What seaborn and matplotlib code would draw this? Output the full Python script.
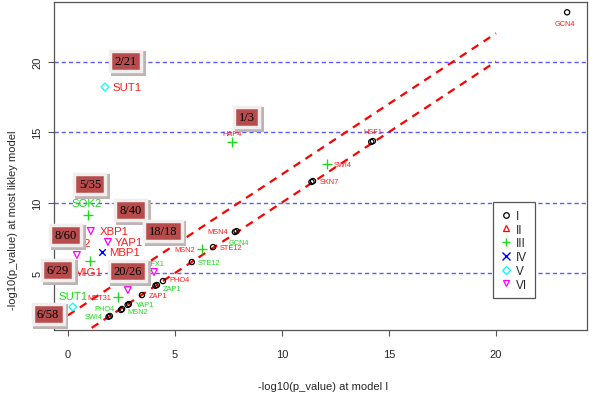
import matplotlib
matplotlib.use("Agg")
import matplotlib.pyplot as plt
from matplotlib.lines import Line2D
import pandas as pd
import seaborn as sns

# ---- data ------------------------------------------------------------------
# group I: open black circles (many are two nearly overlapping circles)
g1_x = [23.32, 14.25, 14.17, 11.45, 11.38, 7.80, 7.88, 6.78, 5.79, 4.44, 4.16, 4.09, 3.46, 2.85, 2.79, 2.48, 2.53, 1.96, 1.90]
g1_y = [23.49, 14.36, 14.30, 11.52, 11.46, 7.91, 7.97, 6.84, 5.78, 4.43, 4.15, 4.10, 3.44, 2.80, 2.74, 2.38, 2.45, 1.95, 1.90]
g1_names = ["GCN4", "HSF1", "", "SKN7", "", "MSN4", "GCN4", "STE12", "STE12", "PHO4", "ZAP1", "",
            "ZAP1", "YAP1", "", "PHO4", "MSN2", "SWI4", ""]
g1_label_col = ["r", "r", "", "r", "", "r", "g", "r", "g", "r", "g", "", "r", "g", "", "g", "g", "g", ""]

# group III: green plus
g3_x = [7.66, 12.10, 6.26, 2.34, 0.93, 1.03]
g3_y = [14.28, 12.73, 6.70, 3.30, 9.11, 5.85]
g3_names = ["HAP4", "SWI4", "MSN2", "MET31", "SOK2", "MIG1"]
g3_label_col = ["r", "r", "r", "r", "g", "r"]

# group IV: blue x
g4_x = [1.59]
g4_y = [6.49]
g4_names = ["MBP1"]
g4_label_col = ["r"]

# group V: cyan diamond
g5_x = [1.73, 0.23]
g5_y = [18.19, 2.59]
g5_names = ["SUT1", "SUT1"]
g5_label_col = ["r", "g"]

# group VI: magenta down triangle
g6_x = [1.07, 1.87, 0.42, 4.02, 2.80]
g6_y = [7.98, 7.20, 6.28, 5.07, 3.79]
g6_names = ["XBP1", "YAP1", "INO2", "RFX1", ""]
g6_label_col = ["r", "r", "r", "g", ""]

group_names = ["I", "II", "III", "IV", "V", "VI"]

# boxed counts pasted over the plot
box_texts = ["2/21", "1/3", "5/35", "8/40", "8/60", "18/18", "6/29", "20/26", "6/58"]
box_x = [2.71, 8.36, 1.03, 2.94, -0.09, 4.44, -0.47, 2.80, -0.93]
box_y = [20.04, 16.06, 11.31, 9.47, 7.70, 7.98, 5.21, 5.14, 2.09]

hlines_y = [5, 10, 15, 20]
diag_x = [0, 20]
diag_shift = [0, 2]

# ---- label layout: (dx px, dy px, ha, big font) ----------------------------
g1_lab = [(-2, -11, "center", False), (0, 10, "center", False), None, (7, 0, "left", False), None,
          (-7, 0, "right", False), (2, -11, "center", False), (7, 0, "left", False), (6, 0, "left", False),
          (6, 2, "left", False), (6, -3, "left", False), None, (7, 0, "left", False),
          (7, 0, "left", False), None, (-6, 1, "right", False), (5, -3, "left", False),
          (-7, 0, "right", False), None]
g3_lab = [(0, 9, "center", False), (7, 0, "left", False), (-7, 0, "right", False),
          (-7, 0, "right", False), (-1, 12, "center", True), (-2, -11, "center", True)]
g4_lab = [(7, 0, "left", True)]
g5_lab = [(8, 0, "left", True), (0, 11, "center", True)]
g6_lab = [(9, 0, "left", True), (7, 0, "left", True), (0, 12, "center", True), (1, 9, "center", False), None]

COLORS = {"I": "black", "II": "red", "III": "#1ed81e", "IV": "blue", "V": "cyan", "VI": "magenta"}
LABEL_COLORS = {"r": "#ff1a1a", "g": "#1ed81e"}

sns.set_style("white")
plt.rcParams["font.family"] = ["Liberation Sans", "DejaVu Sans"]

fig = plt.figure(figsize=(6.0, 4.1), dpi=100)
ax = fig.add_axes([54 / 600, 79 / 410, 533 / 600, 328 / 410])

# reference lines
for y in hlines_y:
    ax.axhline(y, color="#5a5aff", lw=1.0, ls=(0, (3.0, 2.2)), zorder=1)
for s in diag_shift:
    ax.plot(diag_x, [v + s for v in diag_x], color="red", lw=1.6, ls=(0, (3.6, 2.8)), zorder=2)

# points
groups = [
    ("I", g1_x, g1_y, g1_names, g1_label_col, g1_lab, "o", 14, True),
    ("III", g3_x, g3_y, g3_names, g3_label_col, g3_lab, "+", 45, False),
    ("IV", g4_x, g4_y, g4_names, g4_label_col, g4_lab, "x", 22, False),
    ("V", g5_x, g5_y, g5_names, g5_label_col, g5_lab, "D", 16, True),
    ("VI", g6_x, g6_y, g6_names, g6_label_col, g6_lab, "v", 24, True),
]
for grp, xs, ys, names, lcols, layout, marker, size, hollow in groups:
    df = pd.DataFrame({"x": xs, "y": ys, "name": names})
    if hollow:
        sns.scatterplot(data=df, x="x", y="y", marker=marker, s=size, facecolors="none",
                        edgecolor=COLORS[grp], linewidth=0.9, ax=ax, zorder=3)
    else:
        sns.scatterplot(data=df, x="x", y="y", marker=marker, s=size, color=COLORS[grp],
                        linewidth=1.0, ax=ax, zorder=3)
    for (px, py, nm, lc, lay) in zip(xs, ys, names, lcols, layout):
        if not nm or lay is None:
            continue
        dx, dy, ha, big = lay
        ax.annotate(nm, (px, py), xytext=(dx, dy), textcoords="offset pixels", ha=ha, va="center",
                    color=LABEL_COLORS[lc], fontsize=8.2 if big else 5.3, zorder=4)

# count boxes with a light frame and drop shadow
for txt, bx, by in zip(box_texts, box_x, box_y):
    ax.annotate(txt, (bx, by), xytext=(2.5, -2.5), textcoords="offset pixels", ha="center", va="center",
                family="Liberation Serif", fontsize=9, color="none", annotation_clip=False,
                bbox=dict(boxstyle="square,pad=0.5", fc="#bdb4b4", ec="none"), zorder=5)
    ax.annotate(txt, (bx, by), ha="center", va="center", family="Liberation Serif", fontsize=9,
                color="black", annotation_clip=False,
                bbox=dict(boxstyle="square,pad=0.35", fc="#b84c4c", ec="#f3eeee", lw=2.5), zorder=6)

ax.set_xlim(-0.65, 24.25)
ax.set_ylim(0.96, 24.22)
ax.set_xticks([0, 5, 10, 15, 20])
ax.set_yticks([5, 10, 15, 20])
ax.tick_params(axis="both", direction="out", length=4.5, width=0.8, color="#555555",
               labelsize=8, bottom=True, left=True)
ax.tick_params(axis="x", pad=9)
ax.tick_params(axis="y", pad=4, labelrotation=90)
for lab in ax.get_yticklabels():
    lab.set_va("center")
for sp in ax.spines.values():
    sp.set_color("#555555")
    sp.set_linewidth(0.9)

ax.set_xlabel("-log10(p_value) at model I", fontsize=8)
ax.set_ylabel("-log10(p_value) at most likley model", fontsize=8)
ax.xaxis.set_label_coords(0.504, -0.155)
ax.yaxis.set_label_coords(-0.068, 0.338)

# legend
markers = {"I": "o", "II": "^", "III": "+", "IV": "x", "V": "D", "VI": "v"}
handles = []
for g in group_names:
    m = markers[g]
    if m in "+x":
        h = Line2D([], [], ls="none", marker=m, color=COLORS[g], markersize=6, mew=1.0)
    else:
        h = Line2D([], [], ls="none", marker=m, markerfacecolor="none", markeredgecolor=COLORS[g],
                   markersize=4.5 if m != "o" else 4, mew=0.9)
    handles.append(h)
leg = ax.legend(handles, group_names, loc="upper left", bbox_to_anchor=(0.824, 0.39),
                borderaxespad=0, fontsize=8.5, frameon=True, fancybox=False, framealpha=1,
                edgecolor="#555555", handlelength=0.8, handletextpad=0.5, labelspacing=0.15,
                borderpad=0.65)
leg.get_frame().set_linewidth(0.9)
leg.set_zorder(7)

fig.savefig("out.png", dpi=100)
